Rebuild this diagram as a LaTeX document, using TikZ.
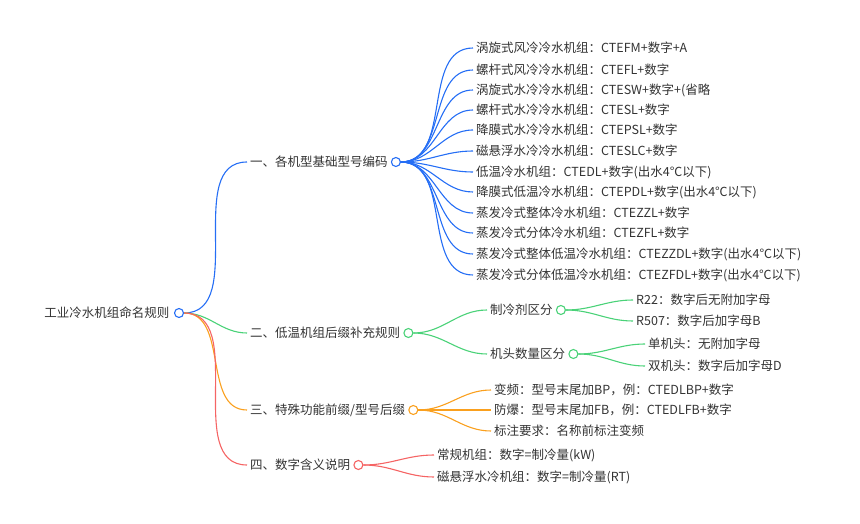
\documentclass[tikz,border=0pt]{standalone}
\usepackage{fontspec}
\setmainfont{Noto Sans CJK SC}
\begin{document}
\begin{tikzpicture}[x=1pt,y=-1pt]
  \tikzstyle{every node}=[font=\fontsize{12.5}{14}\selectfont,text=black!80]
  \tikzstyle{topic}=[anchor=west,inner xsep=3pt,inner ysep=1pt]
  \tikzstyle{knob}=[circle,draw,fill=white,line width=1.1pt,inner sep=0pt,minimum size=9pt]
  \tikzstyle{link}=[line width=1.1pt,out=0,in=180]
  \definecolor{cblue}{RGB}{37,110,245}
  \definecolor{cgreen}{RGB}{74,210,120}
  \definecolor{corange}{RGB}{250,160,30}
  \definecolor{cred}{RGB}{245,100,100}
  \useasboundingbox (0,0) rectangle (860,524);
  % root
  \node[anchor=east] (root) at (173,313) {工业冷水机组命名规则};
  \node[knob,draw=cblue] (rk) at (179,313) {};
  % level 1
  \node[topic] (a) at (247,162) {一、各机型基础型号编码};
  \node[knob,draw=cblue] (ak) at (a.east) [xshift=5pt] {};
  \node[topic] (b) at (247,333) {二、低温机组后缀补充规则};
  \node[knob,draw=cgreen] (bk) at (b.east) [xshift=5pt] {};
  \node[topic] (c) at (247,410) {三、特殊功能前缀/型号后缀};
  \node[knob,draw=corange] (ck) at (c.east) [xshift=5pt] {};
  \node[topic] (d) at (247,465) {四、数字含义说明};
  \node[knob,draw=cred] (dk) at (d.east) [xshift=5pt] {};
  \draw[link,cblue] (rk) to (a.west);
  \draw[link,cgreen] (rk) to (b.west);
  \draw[link,corange] (rk) to (c.west);
  \draw[link,cred] (rk) to (d.west);
  % base codes
  \foreach \y/\t [count=\i] in {48/涡旋式风冷冷水机组：CTEFM+数字+A,
      70/螺杆式风冷冷水机组：CTEFL+数字,
      90/涡旋式水冷冷水机组：CTESW+数字+(省略/A),
      110/螺杆式水冷冷水机组：CTESL+数字,
      130/降膜式水冷冷水机组：CTEPSL+数字,
      151/磁悬浮水冷冷水机组：CTESLC+数字,
      172/低温冷水机组：CTEDL+数字(出水4℃以下),
      192/降膜式低温冷水机组：CTEPDL+数字(出水4℃以下),
      213/蒸发冷式整体冷水机组：CTEZZL+数字,
      233/蒸发冷式分体冷水机组：CTEZFL+数字,
      254/蒸发冷式整体低温冷水机组：CTEZZDL+数字(出水4℃以下),
      275/蒸发冷式分体低温冷水机组：CTEZFDL+数字(出水4℃以下)} {
    \node[topic] (a\i) at (473,\y) {\t};
    \draw[link,cblue] (ak) to (a\i.west);
  }
  % low temperature
  \node[topic] (b1) at (487,310) {制冷剂区分};
  \node[knob,draw=cgreen] (b1k) at (b1.east) [xshift=5pt] {};
  \node[topic] (b2) at (487,354) {机头数量区分};
  \node[knob,draw=cgreen] (b2k) at (b2.east) [xshift=5pt] {};
  \draw[link,cgreen] (bk) to (b1.west);
  \draw[link,cgreen] (bk) to (b2.west);
  \node[topic] (b11) at (633,300) {R22：数字后无附加字母};
  \node[topic] (b12) at (633,321) {R507：数字后加字母B};
  \node[topic] (b21) at (645,344) {单机头：无附加字母};
  \node[topic] (b22) at (645,366) {双机头：数字后加字母D};
  \draw[link,cgreen] (b1k) to (b11.west);
  \draw[link,cgreen] (b1k) to (b12.west);
  \draw[link,cgreen] (b2k) to (b21.west);
  \draw[link,cgreen] (b2k) to (b22.west);
  % special
  \foreach \y/\t [count=\i] in {390/变频：型号末尾加BP，例：CTEDLBP+数字,
      410/防爆：型号末尾加FB，例：CTEDLFB+数字,
      431/标注要求：名称前标注变频/防爆文字} {
    \node[topic] (c\i) at (491,\y) {\t};
    \draw[link,corange] (ck) to (c\i.west);
  }
  % numbers
  \node[topic] (d1) at (434,455) {常规机组：数字=制冷量(kW)};
  \node[topic] (d2) at (434,477) {磁悬浮水冷机组：数字=制冷量(RT)};
  \draw[link,cred] (dk) to (d1.west);
  \draw[link,cred] (dk) to (d2.west);
\end{tikzpicture}
\end{document}
